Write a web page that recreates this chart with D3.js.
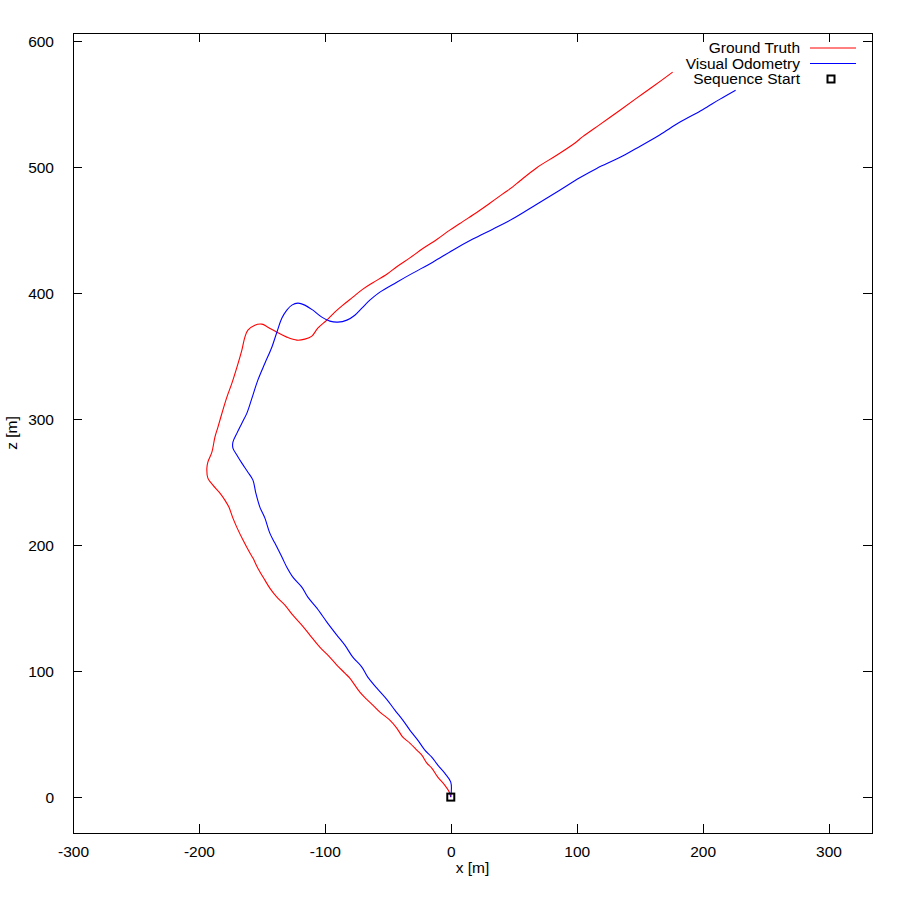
<!DOCTYPE html>
<html>
<head>
<meta charset="utf-8">
<script src="https://cdn.jsdelivr.net/npm/d3@7"></script>
<style>
body { margin: 0; background: #fff; }
text { font-family: "Liberation Sans", Arial, sans-serif; font-size: 15.5px; fill: #000; }
</style>
</head>
<body>
<svg id="chart" width="900" height="900"></svg>
<script>
// ground truth trajectory [x, z] in metres
var groundTruth = [
	[0, 0], [-1.3, 4.2], [-4.8, 9.5], [-10.3, 15.9], [-15.1, 23.0], [-19.0, 27.0],
	[-23.0, 33.3], [-27.0, 37.3], [-32.5, 42.9], [-38.1, 47.6], [-42.9, 54.8],
	[-48.4, 61.1], [-56.3, 67.5], [-61.9, 73.0], [-66.9, 77.8], [-72.2, 83.3],
	[-80.2, 94.4], [-84.1, 98.4], [-90.5, 104.8], [-97.6, 112.7], [-104.0, 119.0],
	[-111.9, 128.6], [-118.3, 136.5], [-125.4, 144.4], [-131.7, 152.4], [-138.1, 158.7],
	[-143.7, 165.9], [-147.6, 172.2], [-153.2, 181.7], [-157.1, 189.7], [-159.5, 193.7],
	[-165.0, 204.0], [-169.6, 213.5], [-173.0, 221.4], [-176.2, 230.2], [-179.4, 235.7],
	[-183.3, 241.3], [-188.9, 247.6], [-192.9, 253.2], [-193.7, 261.1], [-192.9, 265.9],
	[-189.7, 273.8], [-187.3, 285.7], [-184.9, 293.7], [-181.0, 307.1], [-177.8, 317.5],
	[-173.8, 328.6], [-169.8, 341.3], [-165.9, 354.8], [-163.5, 365.1], [-161.1, 370.6],
	[-155.6, 374.6], [-150.0, 375.4], [-145.2, 373.0], [-138.1, 369.0], [-130.2, 365.1],
	[-122.2, 362.7], [-115.9, 363.5], [-110.3, 365.9], [-105.6, 372.2], [-98.4, 378.6],
	[-92.1, 384.9], [-85.7, 390.5], [-77.8, 396.8], [-69.8, 403.2], [-61.9, 408.3],
	[-50.8, 415.0], [-42.9, 421.0], [-32.5, 428.0], [-22.2, 435.4], [-11.1, 442.6],
	[-0.8, 450.0], [9.5, 456.8], [20.6, 464.0], [31.0, 471.4], [41.3, 478.8],
	[49.2, 484.4], [54.8, 489.0], [68.3, 499.6], [84.1, 509.5], [98.4, 519.0],
	[104.8, 524.2], [118.3, 533.8], [134.1, 545.0], [147.6, 554.8], [160.3, 563.8],
	[176.2, 575.4]
];

// visual odometry estimate [x, z] in metres
var visualOdometry = [
	[0, 0], [0, 11.9], [-4.8, 19.0], [-10.3, 25.4], [-15.1, 31.7], [-20.6, 37.3],
	[-26.2, 45.2], [-32.5, 53.2], [-38.1, 61.1], [-44.4, 69.0], [-51.0, 77.8],
	[-58.7, 86.5], [-65.9, 95.2], [-70.6, 103.2], [-77.8, 111.1], [-84.1, 120.6],
	[-90.5, 128.6], [-98.4, 138.9], [-106.3, 150.0], [-113.5, 158.7], [-118.3, 166.7],
	[-125.4, 174.6], [-130.2, 182.5], [-134.1, 190.5], [-139.7, 201.6], [-143.7, 209.5],
	[-147.6, 221.4], [-151.6, 230.2], [-154.8, 241.3], [-157.1, 251.6], [-161.1, 257.9],
	[-165.9, 265.1], [-169.8, 271.4], [-173.0, 277.0], [-173.0, 281.7], [-169.8, 288.9],
	[-165.9, 296.8], [-161.9, 304.8], [-157.9, 316.7], [-153.2, 331.0], [-147.6, 344.4],
	[-142.1, 357.1], [-138.1, 369.0], [-134.1, 380.2], [-130.2, 386.5], [-126.2, 390.5],
	[-121.4, 392.1], [-115.9, 390.5], [-109.5, 386.5], [-102.4, 381.0], [-96.0, 377.8],
	[-89.7, 377.0], [-82.5, 378.6], [-76.2, 382.5], [-70.6, 388.1], [-64.3, 394.4],
	[-56.3, 400.8], [-42.9, 408.7], [-30.2, 415.9], [-14.3, 424.6], [1.6, 434.1],
	[17.5, 442.9], [33.3, 450.8], [49.2, 459.0], [68.3, 470.6],
	[86.5, 481.7], [102.4, 491.6], [115.9, 499.0], [134.1, 507.6], [147.6, 515.1],
	[165.9, 525.6], [181.7, 535.6], [200.0, 545.6], [213.5, 553.8], [226.2, 561.1]
];

var sequenceStart = [[0, 0]];

var xTicks = [-300, -200, -100, 0, 100, 200, 300];
var zTicks = [0, 100, 200, 300, 400, 500, 600];

var legendNames = ["Ground Truth", "Visual Odometry", "Sequence Start"];
var legendColors = ["#ff0000", "#0000ff", "#000000"];

var LEFT = 73, RIGHT = 872, TOP = 33, BOTTOM = 833;
var TICK = 9;

var svg = d3.select("#chart");

var x = d3.scaleLinear().domain([-300, 334.5]).range([LEFT, RIGHT]);
var z = d3.scaleLinear().domain([-28.5, 606.5]).range([BOTTOM, TOP]);

// plain hyphen minus like gnuplot
var fmt = function(d) { return String(d); };

// axes, ticks pointing inward, mirrored on top / right
svg.append("g").attr("transform", "translate(0," + BOTTOM + ")")
	.call(d3.axisBottom(x).tickValues(xTicks).tickFormat(fmt).tickSizeInner(-TICK).tickSizeOuter(0).tickPadding(13));
svg.append("g").attr("transform", "translate(0," + TOP + ")")
	.call(d3.axisTop(x).tickValues(xTicks).tickSizeInner(-TICK).tickSizeOuter(0).tickFormat(""));
svg.append("g").attr("transform", "translate(" + LEFT + ",0)")
	.call(d3.axisLeft(z).tickValues(zTicks).tickFormat(fmt).tickSizeInner(-TICK).tickSizeOuter(0).tickPadding(19));
svg.append("g").attr("transform", "translate(" + RIGHT + ",0)")
	.call(d3.axisRight(z).tickValues(zTicks).tickSizeInner(-TICK).tickSizeOuter(0).tickFormat(""));

svg.selectAll(".domain").remove();
svg.selectAll(".tick line").attr("stroke", "#000").attr("shape-rendering", "crispEdges");
svg.selectAll(".tick text").attr("font-size", "15.5px")
	.attr("font-family", "Liberation Sans, Arial, sans-serif").attr("fill", "#000");

// frame
svg.append("rect")
	.attr("x", LEFT + 0.5).attr("y", TOP + 0.5)
	.attr("width", RIGHT - LEFT).attr("height", BOTTOM - TOP)
	.attr("fill", "none").attr("stroke", "#000").attr("stroke-width", 1)
	.attr("shape-rendering", "crispEdges");

// axis labels
svg.append("text").attr("x", (LEFT + RIGHT) / 2).attr("y", 873)
	.attr("text-anchor", "middle").text("x [m]");
svg.append("text").attr("transform", "translate(17," + ((TOP + BOTTOM) / 2) + ") rotate(-90)")
	.attr("text-anchor", "middle").text("z [m]");

var line = d3.line()
	.x(function(d) { return x(d[0]); })
	.y(function(d) { return z(d[1]); })
	.curve(d3.curveCatmullRom.alpha(0.5));

svg.append("path").datum(groundTruth)
	.attr("d", line).attr("fill", "none")
	.attr("stroke", legendColors[0]).attr("stroke-width", 1.1);

svg.append("path").datum(visualOdometry)
	.attr("d", line).attr("fill", "none")
	.attr("stroke", legendColors[1]).attr("stroke-width", 1.1);

svg.selectAll(".start").data(sequenceStart).enter().append("rect")
	.attr("class", "start")
	.attr("x", function(d) { return x(d[0]) - 3.5; })
	.attr("y", function(d) { return z(d[1]) - 3.5; })
	.attr("width", 7).attr("height", 7)
	.attr("fill", "none").attr("stroke", "#000").attr("stroke-width", 2);

// legend
var legend = svg.append("g");
legendNames.forEach(function(name, i) {
	var ly = 48 + i * 15.5;
	legend.append("text").attr("x", 800).attr("y", ly)
		.attr("dy", "0.35em").attr("text-anchor", "end").text(name);
	if (i < 2) {
		legend.append("line")
			.attr("x1", 810).attr("x2", 856).attr("y1", ly).attr("y2", ly)
			.attr("stroke", legendColors[i]).attr("stroke-width", 1);
	} else {
		legend.append("rect")
			.attr("x", 827.5).attr("y", ly - 3.5).attr("width", 7).attr("height", 7)
			.attr("fill", "none").attr("stroke", "#000").attr("stroke-width", 2);
	}
});
</script>
</body>
</html>
